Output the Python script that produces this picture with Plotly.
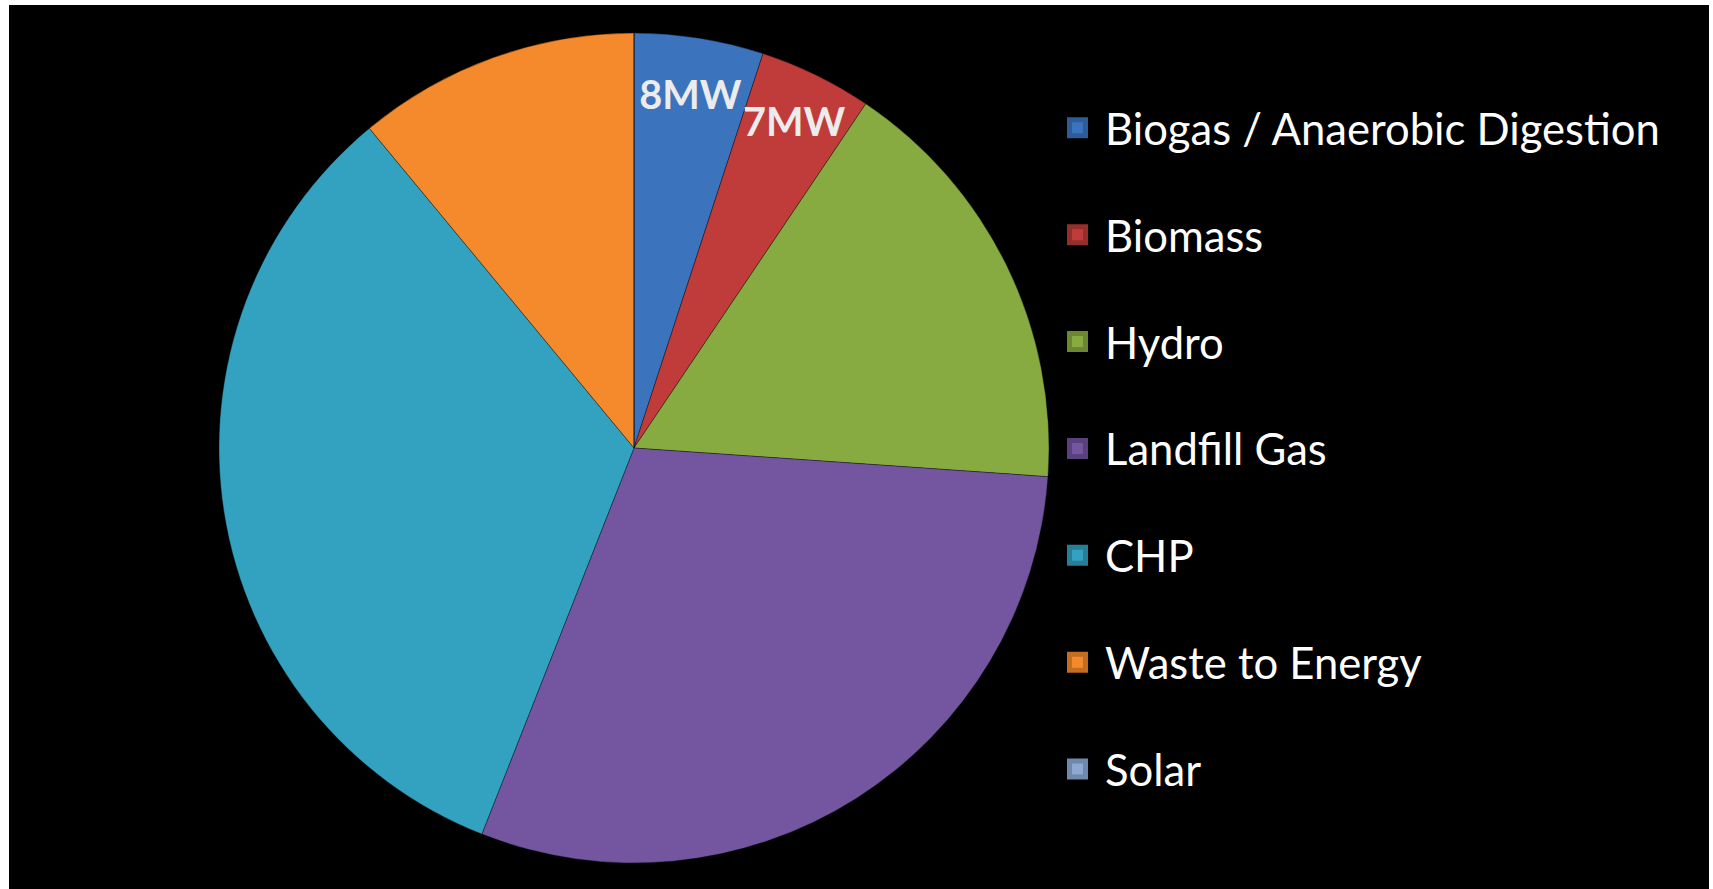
import plotly.graph_objects as go

# ---- data ----
categories = ["Biogas / Anaerobic Digestion", "Biomass", "Hydro", "Landfill Gas",
              "CHP", "Waste to Energy", "Solar"]
capacity_mw = [8, 7, 26.5, 47.5, 52.5, 17.5, 0]
slice_text = ["8MW", "7MW", "", "", "", "", ""]

# ---- styling ----
slice_colors = ["#3B74BC", "#BF3C3A", "#88AB41", "#7355A0", "#33A2C0", "#F48A2C", "#8FA9D2"]
legend_edges = ["#2D5C96", "#962E2C", "#6B8733", "#59417E", "#277F97", "#C46C20", "#6F88AE"]

W, H = 1713, 889

fig = go.Figure()

fig.add_trace(go.Pie(
    labels=categories,
    values=capacity_mw,
    text=slice_text,
    textinfo="text",
    textposition="inside",
    insidetextorientation="horizontal",
    sort=False,
    direction="clockwise",
    rotation=0,
    marker=dict(colors=slice_colors, line=dict(color="rgba(0,0,0,0.35)", width=1)),
    textfont=dict(family="Lato", size=60, color="#ECECEC", weight="bold"),
    showlegend=False,
    domain=dict(x=[219 / W, 1049 / W], y=[1 - 863 / H, 1 - 33 / H]),
    hoverinfo="label+value",
))

# legend entries (one group per category so the spacing can be set)
for name, col, edge in zip(categories, slice_colors, legend_edges):
    fig.add_trace(go.Scatter(
        x=[None], y=[None], mode="markers", name=name, legendgroup=name,
        marker=dict(symbol="square", size=16, color=col, line=dict(color=edge, width=5)),
        hoverinfo="skip", showlegend=True,
    ))

fig.add_shape(type="rect", xref="paper", yref="paper",
              x0=9 / W, x1=1709 / W, y0=0, y1=(H - 5) / H,
              fillcolor="black", line_width=0, layer="below")

fig.update_layout(
    width=W, height=H,
    margin=dict(l=0, r=0, t=0, b=0),
    paper_bgcolor="white",
    plot_bgcolor="rgba(0,0,0,0)",
    xaxis=dict(visible=False),
    yaxis=dict(visible=False),
    uniformtext=dict(minsize=39, mode="show"),
    legend=dict(
        x=1050 / W, y=1 - 93 / H, xanchor="left", yanchor="top",
        font=dict(family="Lato", size=43.6, color="white"),
        itemwidth=45,
        tracegroupgap=47.2,
        bgcolor="rgba(0,0,0,0)",
        itemclick=False, itemdoubleclick=False,
    ),
)

fig.write_html("out.html")
